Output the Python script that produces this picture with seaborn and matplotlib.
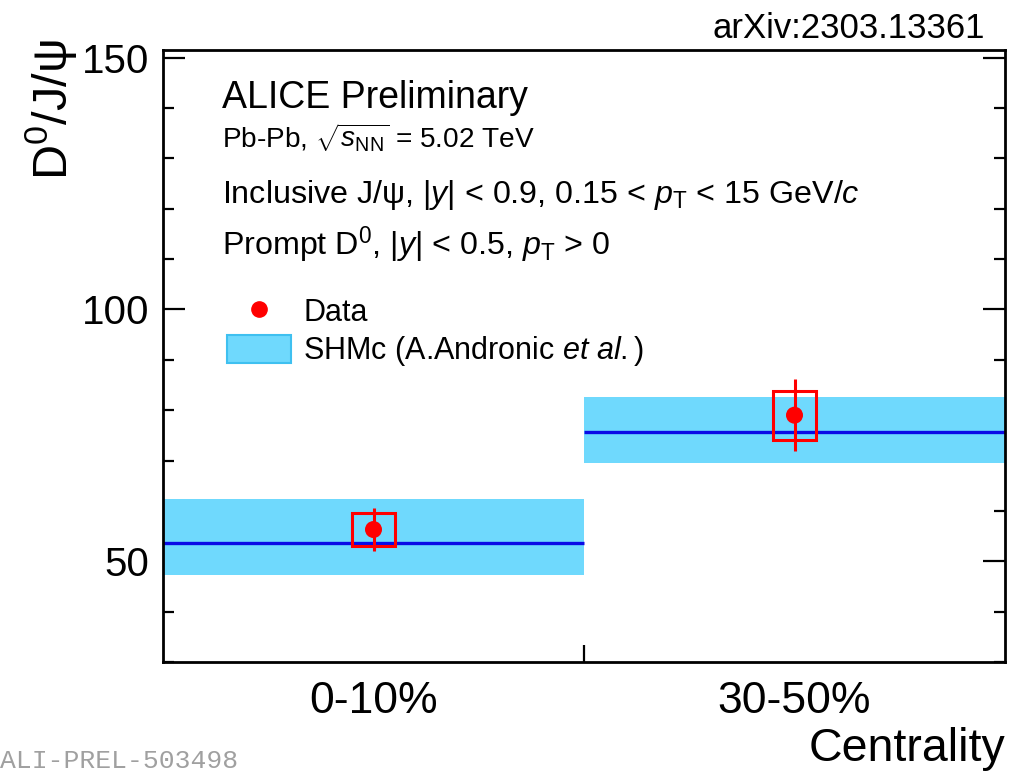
import matplotlib
matplotlib.use("Agg")
import matplotlib.pyplot as plt
from matplotlib.lines import Line2D
from matplotlib.patches import Patch
import numpy as np
import pandas as pd
import seaborn as sns

# values
centrality = ["0-10%", "30-50%"]
data_ratio = [56.3, 79.0]
stat_err = [4.2, 7.1]
syst_err = [3.2, 4.9]
shm_mid = [53.6, 75.7]
shm_low = [47.2, 69.5]
shm_high = [62.3, 82.6]

sns.set_theme(style="ticks")
plt.rcParams["font.family"] = ["Liberation Sans", "DejaVu Sans"]
plt.rcParams["mathtext.fontset"] = "custom"
plt.rcParams["mathtext.rm"] = "Liberation Sans"
plt.rcParams["mathtext.it"] = "Liberation Sans:italic"
plt.rcParams["mathtext.bf"] = "Liberation Sans:bold"
for key in ["text.color", "axes.labelcolor", "xtick.color", "ytick.color"]:
    plt.rcParams[key] = "black"

df = pd.DataFrame({
    "centrality": centrality,
    "x": np.arange(len(centrality)),
    "ratio": data_ratio,
    "stat": stat_err,
    "syst": syst_err,
    "shm": shm_mid,
    "shm_lo": shm_low,
    "shm_hi": shm_high,
})

fig = plt.figure(figsize=(10.09, 7.71), dpi=100)
ax = fig.add_axes([163 / 1009, 1 - 662 / 771, 842 / 1009, 612 / 771])

band_color = "#6fd9fd"
line_color = "#0a0ae6"
red = "#ff0000"

# SHMc band and central line
ax.bar(df["x"], df["shm_hi"] - df["shm_lo"], bottom=df["shm_lo"], width=1.0,
       color=band_color, edgecolor="none", zorder=1)
ax.hlines(df["shm"], df["x"] - 0.5, df["x"] + 0.5, color=line_color, lw=2.4, zorder=2)

# data: systematic boxes, stat errors, points
ax.bar(df["x"], 2 * df["syst"], bottom=df["ratio"] - df["syst"], width=0.1,
       fill=False, edgecolor=red, linewidth=2.2, zorder=3)
ax.errorbar(df["x"], df["ratio"], yerr=df["stat"], fmt="none", ecolor=red,
            elinewidth=2.2, capsize=0, zorder=4)
sns.scatterplot(data=df, x="x", y="ratio", ax=ax, color=red, s=150,
                edgecolor="none", zorder=5, legend=False)

ax.set_xlim(-0.5, 1.5)
ax.set_ylim(30, 151.5)
ax.set_xticks(df["x"])
ax.set_xticklabels(df["centrality"], fontsize=32)
ax.set_xticks([0.5], minor=True)
ax.tick_params(axis="x", which="major", length=0, pad=14)
ax.tick_params(axis="x", which="minor", direction="in", length=12, width=1.6,
               bottom=True, top=False)
ax.set_yticks([50, 100, 150])
ax.set_yticks(np.arange(30, 151, 10), minor=True)
ax.tick_params(axis="y", which="both", direction="in", left=True, right=True,
               width=1.6, labelsize=29, pad=10)
ax.tick_params(axis="y", which="major", length=16)
ax.tick_params(axis="y", which="minor", length=8)
for sp in ax.spines.values():
    sp.set_linewidth(2.0)
    sp.set_color("black")

ax.set_xlabel("Centrality", loc="right", fontsize=33.5, labelpad=3)
ax.set_ylabel("D$^0$/J/ψ", fontsize=35, ha="right", va="center")
ax.yaxis.set_label_coords(-0.133, 1.018)

# annotations
ax.text(0.070, 0.905, "ALICE Preliminary", transform=ax.transAxes, fontsize=27)
ax.text(0.070, 0.8415, r"Pb-Pb, $\sqrt{s_{\rm NN}}$ = 5.02 TeV",
        transform=ax.transAxes, fontsize=20.2)
ax.text(0.070, 0.7505, r"Inclusive J/ψ, |$y$| < 0.9, 0.15 < $p_{\rm T}$ < 15 GeV/$c$",
        transform=ax.transAxes, fontsize=23.2)
ax.text(0.070, 0.665, r"Prompt D$^0$, |$y$| < 0.5, $p_{\rm T}$ > 0",
        transform=ax.transAxes, fontsize=23.2)

handles = [
    Line2D([], [], marker="o", color=red, linestyle="none", markersize=11),
    Patch(facecolor=band_color, edgecolor="#3fc0f0", linewidth=1.5),
]
ax.legend(handles, ["Data", r"SHMc (A.Andronic $et$ $al.$)"], loc="upper left",
          bbox_to_anchor=(0.076, 0.597), frameon=False, fontsize=22,
          handlelength=2.1, handleheight=1.05, handletextpad=0.4,
          labelspacing=0.2, borderpad=0, borderaxespad=0)

fig.text(0.976, 0.951, "arXiv:2303.13361", ha="right", fontsize=25)
fig.text(0.0, 0.004, "ALI-PREL-503498", ha="left", fontsize=19,
         family="Liberation Mono", color="#a0a0a0")

fig.savefig("out.png", dpi=100)
